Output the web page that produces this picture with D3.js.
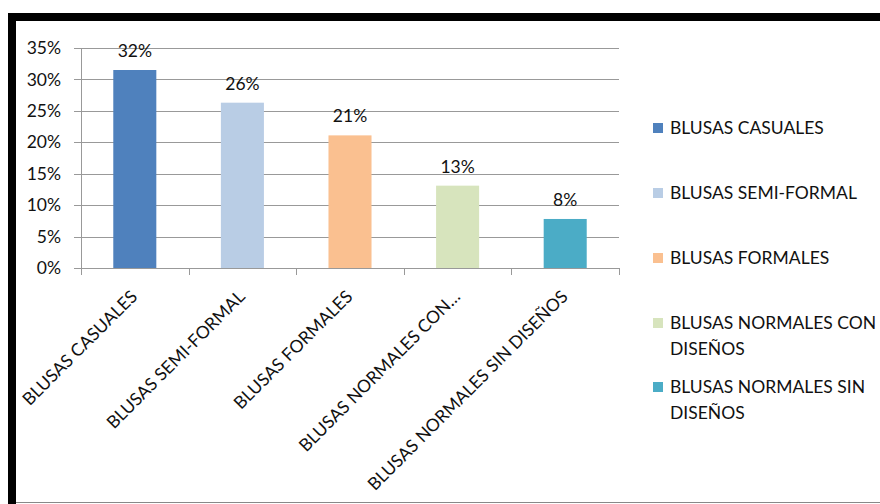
<!DOCTYPE html>
<html>
<head>
<meta charset="utf-8">
<script src="https://cdn.jsdelivr.net/npm/d3@7"></script>
<style>
  html, body { margin: 0; padding: 0; background: #fff; }
  svg { display: block; font-family: Lato, "Open Sans", sans-serif; }
</style>
</head>
<body>
<svg id="chart" width="880" height="504"></svg>
<script>
// chart data
const categories = [
  "BLUSAS CASUALES",
  "BLUSAS SEMI-FORMAL",
  "BLUSAS FORMALES",
  "BLUSAS NORMALES CON DISEÑOS",
  "BLUSAS NORMALES SIN DISEÑOS"
];
const axisLabels = [
  "BLUSAS CASUALES",
  "BLUSAS SEMI-FORMAL",
  "BLUSAS FORMALES",
  "BLUSAS NORMALES CON…",
  "BLUSAS NORMALES SIN DISEÑOS"
];
const values = [0.315, 0.263, 0.211, 0.131, 0.078];
const valueLabels = ["32%", "26%", "21%", "13%", "8%"];
const colors = ["#4F81BD", "#B9CDE5", "#FAC090", "#D7E4BD", "#4BACC6"];
const legendLines = [
  ["BLUSAS CASUALES"],
  ["BLUSAS SEMI-FORMAL"],
  ["BLUSAS FORMALES"],
  ["BLUSAS NORMALES CON", "DISEÑOS"],
  ["BLUSAS NORMALES SIN", "DISEÑOS"]
];
const yTicks = [0, 0.05, 0.10, 0.15, 0.20, 0.25, 0.30, 0.35];

const svg = d3.select("#chart");
const W = 880, H = 504;
const plot = { left: 81, right: 619, top: 48, bottom: 268 };
const textColor = "#111";
const fontSize = 17.5;

// frame: thick black top and left, thin grey bottom
svg.append("rect").attr("x", 8).attr("y", 13).attr("width", W - 8).attr("height", 8).attr("fill", "#000");
svg.append("rect").attr("x", 8).attr("y", 13).attr("width", 8).attr("height", H - 13).attr("fill", "#000");
svg.append("line").attr("x1", 16).attr("x2", W).attr("y1", 502.5).attr("y2", 502.5)
  .attr("stroke", "#888").attr("stroke-width", 1);

const x = d3.scaleBand().domain(categories).range([plot.left, plot.right]).paddingInner(0.6).paddingOuter(0.3);
const y = d3.scaleLinear().domain([0, 0.35]).range([plot.bottom, plot.top]);

// gridlines
svg.append("g")
  .selectAll("line")
  .data(yTicks)
  .join("line")
  .attr("x1", plot.left - 7)
  .attr("x2", plot.right)
  .attr("y1", (d) => Math.round(y(d)) + 0.5)
  .attr("y2", (d) => Math.round(y(d)) + 0.5)
  .attr("stroke", "#999")
  .attr("stroke-width", 1);

// y-axis line
svg.append("line")
  .attr("x1", plot.left + 0.5).attr("x2", plot.left + 0.5)
  .attr("y1", plot.top).attr("y2", plot.bottom)
  .attr("stroke", "#999");

// y tick labels
svg.append("g")
  .selectAll("text")
  .data(yTicks)
  .join("text")
  .attr("x", 61)
  .attr("y", (d) => y(d))
  .attr("dy", "0.35em")
  .attr("text-anchor", "end")
  .attr("font-size", fontSize)
  .attr("fill", textColor)
  .text((d) => d3.format(".0%")(d));

// category boundary ticks below axis
const step = (plot.right - plot.left) / categories.length;
svg.append("g")
  .selectAll("line")
  .data(d3.range(categories.length + 1))
  .join("line")
  .attr("x1", (i) => Math.round(plot.left + i * step) + 0.5)
  .attr("x2", (i) => Math.round(plot.left + i * step) + 0.5)
  .attr("y1", plot.bottom)
  .attr("y2", plot.bottom + 7)
  .attr("stroke", "#999");

// bars
svg.append("g")
  .selectAll("rect")
  .data(values)
  .join("rect")
  .attr("x", (d, i) => x(categories[i]))
  .attr("y", (d) => y(d))
  .attr("width", x.bandwidth())
  .attr("height", (d) => y(0) - y(d))
  .attr("fill", (d, i) => colors[i]);

// value labels
svg.append("g")
  .selectAll("text")
  .data(values)
  .join("text")
  .attr("x", (d, i) => x(categories[i]) + x.bandwidth() / 2)
  .attr("y", (d) => y(d) - 13)
  .attr("text-anchor", "middle")
  .attr("font-size", fontSize)
  .attr("fill", textColor)
  .text((d, i) => valueLabels[i]);

// rotated category labels
svg.append("g")
  .selectAll("text")
  .data(axisLabels)
  .join("text")
  .attr("transform", (d, i) => {
    const cx = x(categories[i]) + x.bandwidth() / 2 - 5;
    return `translate(${cx},${plot.bottom + 21}) rotate(-45)`;
  })
  .attr("text-anchor", "end")
  .attr("dy", "0.7em")
  .attr("font-size", fontSize)
  .attr("fill", textColor)
  .text((d) => d);

// legend
const legendY = [128, 193, 258, 323, 387];
const legend = svg.append("g");
legendLines.forEach((lines, i) => {
  legend.append("rect")
    .attr("x", 653).attr("y", legendY[i] - 5)
    .attr("width", 10).attr("height", 10)
    .attr("fill", colors[i]);
  lines.forEach((ln, j) => {
    legend.append("text")
      .attr("x", 670)
      .attr("y", legendY[i] + j * 26)
      .attr("dy", "0.35em")
      .attr("font-size", fontSize)
      .attr("fill", textColor)
      .text(ln);
  });
});
</script>
</body>
</html>
